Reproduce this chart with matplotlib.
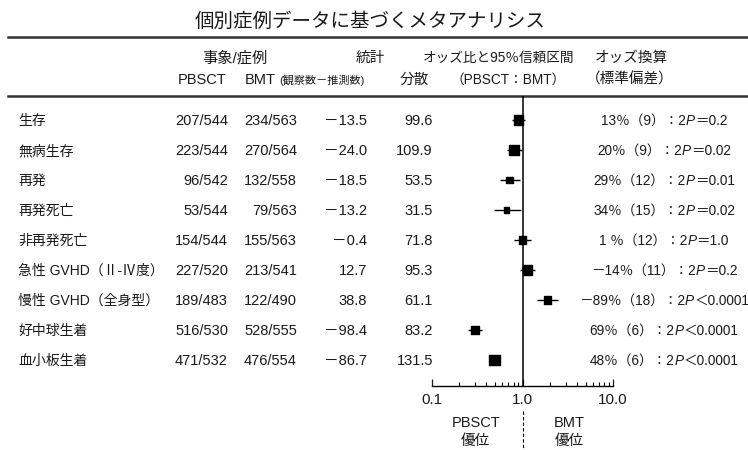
import numpy as np
import matplotlib
matplotlib.use('Agg')
import matplotlib.pyplot as plt
from matplotlib.ticker import NullFormatter

plt.rcParams['font.family'] = ['Liberation Sans', 'Noto Sans CJK JP']

# data
outcomes = ['生存', '無病生存', '再発', '再発死亡', '非再発死亡',
            '急性 GVHD（Ⅱ-Ⅳ度）', '慢性 GVHD（全身型）', '好中球生着', '血小板生着']
pbsct_events = [207, 223, 96, 53, 154, 227, 189, 516, 471]
pbsct_total = [544, 544, 542, 544, 544, 520, 483, 530, 532]
bmt_events = [234, 270, 132, 79, 155, 213, 122, 528, 476]
bmt_total = [563, 564, 558, 563, 563, 541, 490, 555, 554]
o_minus_e = [-13.5, -24.0, -18.5, -13.2, -0.4, 12.7, 38.8, -98.4, -86.7]
variance = [99.6, 109.9, 53.5, 31.5, 71.8, 95.3, 61.1, 83.2, 131.5]
odds_ratio = [0.90, 0.81, 0.72, 0.66, 1.00, 1.14, 1.89, 0.30, 0.49]
ci_low = [0.76, 0.68, 0.56, 0.48, 0.80, 0.93, 1.46, 0.25, 0.44]
ci_high = [1.07, 0.98, 0.93, 0.955, 1.24, 1.37, 2.44, 0.36, 0.57]
reduction = ['13', '20', '29', '34', '1 ', '－14', '－89', '69', '48']
reduction_sd = [9, 9, 12, 15, 12, 11, 18, 6, 6]
p_text = ['＝0.2', '＝0.02', '＝0.01', '＝0.02', '＝1.0', '＝0.2',
          '＜0.0001', '＜0.0001', '＜0.0001']

W, H = 748, 450
fig = plt.figure(figsize=(W / 100, H / 100), dpi=100)
fig.patch.set_facecolor('white')

# overlay axes in pixel units for the table text
bg = fig.add_axes([0, 0, 1, 1])
bg.set_xlim(0, W)
bg.set_ylim(H, 0)
bg.axis('off')

txt = '#1a1a1a'
fs = 10.5
n = len(outcomes)
row_y = [120 + 30 * i for i in range(n)]

# forest plot axes
top_px, bot_px, left_px, right_px = 96, 386, 432, 613
ax = fig.add_axes([left_px / W, (H - bot_px) / H, (right_px - left_px) / W, (bot_px - top_px) / H])
ax.patch.set_alpha(0)
ax.set_xscale('log')
ax.set_xlim(0.1, 10)
ax.set_ylim(bot_px, top_px)
for s in ['top', 'left', 'right']:
    ax.spines[s].set_visible(False)
ax.spines['bottom'].set_linewidth(1.0)
ax.set_yticks([])
ax.set_xticks([0.1, 1, 10], ['0.1', '1.0', '10.0'])
ax.xaxis.set_minor_formatter(NullFormatter())
ax.tick_params(axis='x', which='major', direction='in', length=5, width=0.9, pad=5, labelsize=11, colors=txt)
ax.tick_params(axis='x', which='minor', direction='in', length=3, width=0.8)
ax.axvline(1, color='k', lw=1.1)

odds = np.array(odds_ratio)
err = [odds - np.array(ci_low), np.array(ci_high) - odds]
ax.errorbar(odds, row_y, xerr=err, fmt='none', ecolor='k', elinewidth=1.0, capsize=0)
ax.scatter(odds, row_y, s=0.45 * np.array(variance), marker='s', color='k', zorder=3)

# header
bg.text(370, 22, '個別症例データに基づくメタアナリシス', ha='center', va='center', fontsize=14, color=txt)
bg.plot([8, W], [37, 37], color='#333333', lw=1.8)
bg.plot([8, W], [96, 96], color='#333333', lw=1.8)

bg.text(235, 58, '事象/症例', ha='center', va='center', fontsize=11, color=txt)
bg.text(370, 58, '統計', ha='center', va='center', fontsize=fs, color=txt)
bg.text(499, 58, 'オッズ比と95％信頼区間', ha='center', va='center', fontsize=9.8, color=txt)
bg.text(631, 58, 'オッズ換算', ha='center', va='center', fontsize=fs, color=txt)
bg.text(202, 80, 'PBSCT', ha='center', va='center', fontsize=fs, color=txt)
bg.text(276, 80, 'BMT', ha='right', va='center', fontsize=fs, color=txt)
bg.text(279, 80, '(観察数－推測数)', ha='left', va='center', fontsize=8, color=txt)
bg.text(400, 80, '分散', ha='left', va='center', fontsize=fs, color=txt)
bg.text(508, 80, '（PBSCT：BMT）', ha='center', va='center', fontsize=9.8, color=txt)
bg.text(630, 80, '（標準偏差）', ha='center', va='center', fontsize=fs, color=txt)

# table rows
base = 5
for i in range(n):
    y = row_y[i] + base
    bg.text(18, y, outcomes[i], ha='left', va='baseline', fontsize=10, color=txt)
    bg.text(228, y, f'{pbsct_events[i]}/{pbsct_total[i]}', ha='right', va='baseline', fontsize=fs, color=txt)
    bg.text(297, y, f'{bmt_events[i]}/{bmt_total[i]}', ha='right', va='baseline', fontsize=fs, color=txt)
    oe = f'－{abs(o_minus_e[i]):.1f}' if o_minus_e[i] < 0 else f'{o_minus_e[i]:.1f}'
    bg.text(367, y, oe, ha='right', va='baseline', fontsize=fs, color=txt)
    bg.text(433, y, f'{variance[i]:.1f}', ha='right', va='baseline', fontsize=fs, color=txt)

# odds reduction column, italic P pieced together
renderer = fig.canvas.get_renderer()
for i in range(n):
    y = row_y[i] + base
    parts = [bg.text(0, y, f'{reduction[i]}％（{reduction_sd[i]}）：2', ha='left', va='baseline', fontsize=9.8, color=txt),
             bg.text(0, y, 'P', ha='left', va='baseline', fontsize=9.8, style='italic', color=txt),
             bg.text(0, y, p_text[i], ha='left', va='baseline', fontsize=9.8, color=txt)]
    widths = [t.get_window_extent(renderer).width for t in parts]
    x = 664 - sum(widths) / 2
    for t, w in zip(parts, widths):
        t.set_x(x)
        x += w

# favours labels under the axis
bg.plot([523, 523], [411, 450], color='k', lw=0.8, ls=(0, (3, 2)))
bg.text(476, 423, 'PBSCT', ha='center', va='center', fontsize=fs, color=txt)
bg.text(475, 441, '優位', ha='center', va='center', fontsize=fs, color=txt)
bg.text(569, 423, 'BMT', ha='center', va='center', fontsize=fs, color=txt)
bg.text(569, 441, '優位', ha='center', va='center', fontsize=fs, color=txt)

fig.savefig('out.png', dpi=100)
